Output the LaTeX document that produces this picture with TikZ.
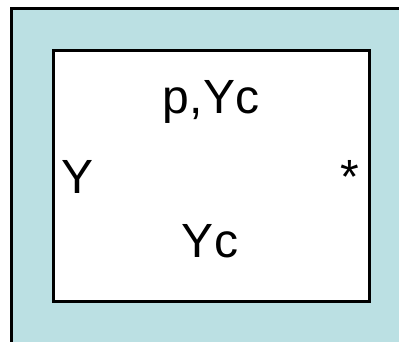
\documentclass[tikz,border=0pt]{standalone}
\usepackage{fontspec}
\setmainfont{Liberation Sans}
\definecolor{paleblue}{RGB}{187,224,227}
\begin{document}
\begin{tikzpicture}[x=1pt,y=-1pt,
  frame/.style={draw=black,line width=3pt},
  lbl/.style={inner sep=0pt,anchor=base,font=\fontsize{48}{48}\selectfont}]
\useasboundingbox (0,0) rectangle (399,341);
\clip (0,0) rectangle (399,341);
\fill[white] (0,0) rectangle (399,341);
\node[frame,fill=paleblue,minimum width=400pt,minimum height=343pt,anchor=north west,inner sep=0pt] (outer) at (10,7) {};
\node[frame,fill=white,minimum width=316pt,minimum height=251pt,anchor=north west,inner sep=0pt] (inner) at (52,49) {};
\node[lbl] (top) at (211,113) {p,Yc};
\node[lbl] (bot) at (210,257) {Yc};
\node[lbl,anchor=base west] (left) at (61,193) {Y};
\node[lbl] (star) at (350,193) {*};
\end{tikzpicture}
\end{document}
